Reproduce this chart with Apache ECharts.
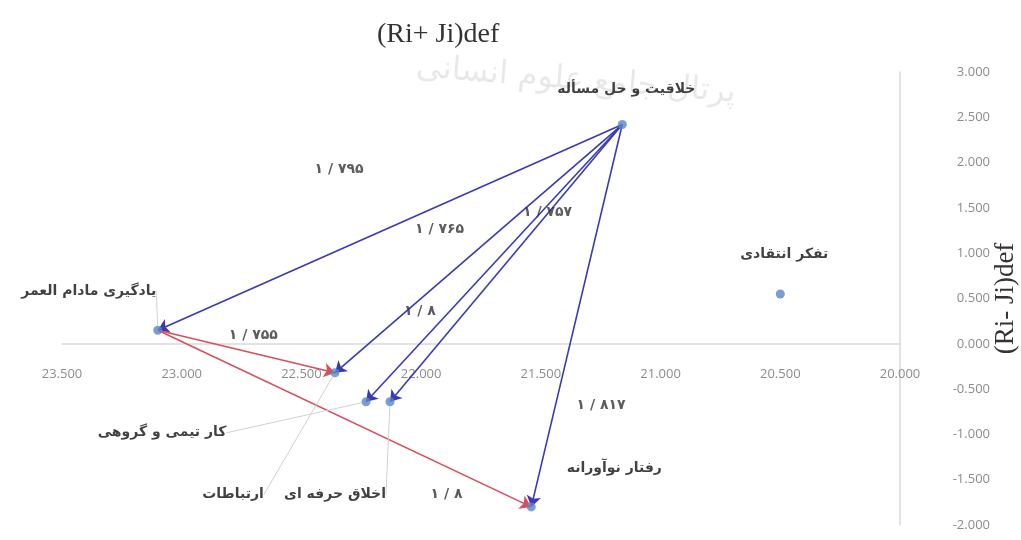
<!DOCTYPE html>
<html>
<head>
<meta charset="utf-8">
<title>(Ri+ Ji)def / (Ri- Ji)def</title>
<script src="https://cdn.jsdelivr.net/npm/echarts@6/dist/echarts.min.js"></script>
<style>
  html, body { margin: 0; padding: 0; background: #fff; }
  #chart { width: 1021px; height: 540px; }
</style>
</head>
<body>
<div id="chart"></div>
<script>
// competencies (points)
var names = ["خلاقیت و حل مسأله", "یادگیری مادام العمر", "تفکر انتقادی", "ارتباطات", "کار تیمی و گروهی", "اخلاق حرفه ای", "رفتار نوآورانه"];
// (Ri+Ji)def  -> x
var sumValues = [21.16, 23.10, 20.50, 22.36, 22.23, 22.13, 21.54];
// (Ri-Ji)def  -> y
var diffValues = [2.42, 0.15, 0.55, -0.32, -0.64, -0.64, -1.80];

// tick values
var xTicks = [20, 20.5, 21, 21.5, 22, 22.5, 23, 23.5];
var yTicks = [-2, -1.5, -1, -0.5, 0, 0.5, 1, 1.5, 2, 2.5, 3];

// influence arrows (index into names) and their values
var arrowFrom = [0, 0, 0, 0, 0, 1, 1];
var arrowTo = [1, 3, 4, 5, 6, 3, 6];
var arrowValues = ["۱ / ۷۹۵", "۱ / ۷۶۵", "۱ / ۸", "۱ / ۷۵۷", "۱ / ۸۱۷", "۱ / ۷۵۵", "۱ / ۸"];

// --- label placement (style only) ---
var pointLabelShift = [[4, -35], [-69, -39], [4, -40], [-102, 122], [-204, 31], [-55, 93], [83, -39]];
var pointLeader = [false, true, false, true, true, true, false];
var arrowLabelAt = [0.5, 0.5, 0.7, 0.3, 0.75, 0.5, 0.8];
var arrowLabelShift = [[-51, -58], [-39, -19], [-23, -7], [-5, 5], [47, -6], [7, -16], [-10, 23]];

var gridTop = 72, gridBottom = 15, chartH = 540;
// move the x axis up to the zero line of the y axis
var plotH = chartH - gridTop - gridBottom;
var zeroShift = plotH * (0 - yTicks[0]) / (yTicks[yTicks.length - 1] - yTicks[0]);

var myChart = echarts.init(document.getElementById("chart"));

var pointData = names.map(function (n, i) {
  return { name: n, value: [sumValues[i], diffValues[i]], labelLine: { show: pointLeader[i] } };
});

var arrowData = arrowFrom.map(function (f, i) {
  var t = arrowTo[i];
  return {
    coords: [[sumValues[f], diffValues[f]], [sumValues[t], diffValues[t]]],
    lineStyle: { color: f === 0 ? "#3a3ab6" : "#d64f5c" }
  };
});

var arrowLabelData = arrowFrom.map(function (f, i) {
  var t = arrowTo[i], k = arrowLabelAt[i];
  return {
    name: arrowValues[i],
    value: [sumValues[f] + k * (sumValues[t] - sumValues[f]), diffValues[f] + k * (diffValues[t] - diffValues[f])],
    label: { offset: arrowLabelShift[i] }
  };
});

var option = {
  animation: false,
  title: {
    text: "(Ri+ Ji)def",
    left: 372,
    top: 16,
    textStyle: { fontFamily: "Liberation Serif", fontSize: 28, fontWeight: "normal", color: "#333" }
  },
  graphic: [{
    type: "text",
    left: 415,
    top: 52,
    rotation: -0.08,
    z: -10,
    style: { text: "پرتال جامع علوم انسانی", fontFamily: "DejaVu Sans", fontSize: 32, fill: "rgba(0,0,0,0.09)" }
  }],
  grid: { left: 62, right: 121, top: gridTop, bottom: gridBottom, outerBoundsMode: "none", containLabel: false },
  xAxis: {
    type: "value",
    inverse: true,
    min: xTicks[0],
    max: xTicks[xTicks.length - 1],
    interval: xTicks[1] - xTicks[0],
    offset: -zeroShift,
    axisLine: { onZero: false, lineStyle: { color: "#d9d9d9", width: 1.5 } },
    axisTick: { show: false },
    splitLine: { show: false },
    axisLabel: {
      margin: 24,
      color: "#8c8c8c",
      fontFamily: "Open Sans",
      fontSize: 13,
      formatter: function (v) { return v.toFixed(3); }
    }
  },
  yAxis: {
    type: "value",
    position: "right",
    min: yTicks[0],
    max: yTicks[yTicks.length - 1],
    interval: yTicks[1] - yTicks[0],
    name: "(Ri- Ji)def",
    nameLocation: "middle",
    nameRotate: 90,
    nameGap: 92,
    nameMoveOverlap: false,
    nameTextStyle: { fontFamily: "Liberation Serif", fontSize: 27, color: "#333" },
    axisLine: { show: true, onZero: false, lineStyle: { color: "#d9d9d9", width: 1.5 } },
    axisTick: { show: false },
    splitLine: { show: false },
    axisLabel: {
      margin: 90,
      align: "right",
      color: "#8c8c8c",
      fontFamily: "Open Sans",
      fontSize: 13,
      formatter: function (v) { return v.toFixed(3); }
    }
  },
  series: [
    {
      name: "arrows",
      type: "lines",
      coordinateSystem: "cartesian2d",
      symbol: ["none", "arrow"],
      symbolSize: 11,
      lineStyle: { width: 1.6, opacity: 1, curveness: 0 },
      data: arrowData,
      z: 3
    },
    {
      name: "competencies",
      type: "scatter",
      symbolSize: 9,
      itemStyle: { color: "#5b84c4" },
      label: {
        show: true,
        position: "inside",
        formatter: "{b}",
        color: "#111",
        fontFamily: "DejaVu Sans",
        fontSize: 14,
        fontWeight: "bold"
      },
      labelLine: { show: true, lineStyle: { color: "#d0d0d0", width: 1 } },
      labelLayout: function (p) {
        var s = pointLabelShift[p.dataIndex];
        return { dx: s[0], dy: s[1] };
      },
      data: pointData,
      z: 5
    },
    {
      name: "arrow values",
      type: "scatter",
      symbolSize: 1,
      silent: true,
      itemStyle: { color: "rgba(0,0,0,0)" },
      label: {
        show: true,
        position: "inside",
        formatter: "{b}",
        color: "#333",
        fontFamily: "DejaVu Sans",
        fontSize: 14,
        fontWeight: "bold"
      },
      data: arrowLabelData,
      z: 6
    }
  ]
};

myChart.setOption(option);
</script>
</body>
</html>
